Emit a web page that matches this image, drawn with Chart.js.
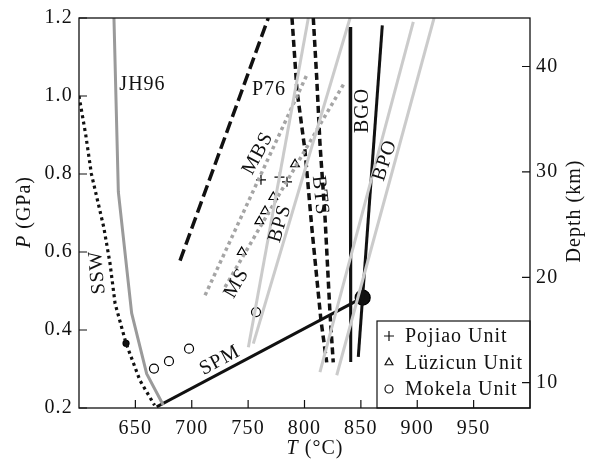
<!DOCTYPE html>
<html>
<head>
<meta charset="utf-8">
<script src="https://cdn.jsdelivr.net/npm/chart.js@4.4.1/dist/chart.umd.min.js"></script>
<style>
  html, body { margin: 0; padding: 0; background: #fff; }
  #wrap { width: 592px; height: 461px; }
</style>
</head>
<body>
<div id="wrap"><canvas id="pt" width="592" height="461"></canvas></div>
<script>
// tick labels
var tempTicks = [650, 700, 750, 800, 850, 900, 950];
var presTicks = [0.2, 0.4, 0.6, 0.8, 1.0, 1.2];
var depthTicks = [10, 20, 30, 40];

// curves: T (C) and P (GPa)
var sswT = [600, 606, 611, 622, 627.5, 632, 641.7, 654, 667];
var sswP = [1.0, 0.9, 0.8, 0.663, 0.571, 0.468, 0.366, 0.271, 0.207];
var jh96T = [631, 634.9, 646.7, 660, 674.8];
var jh96P = [1.2, 0.754, 0.443, 0.288, 0.207];
var spmT = [668.9, 851.6];
var spmP = [0.203, 0.483];
var p76T = [689.6, 767.9];
var p76P = [0.578, 1.2];
var btsLeftT = [788.9, 793.3, 800.4, 806.7, 814.6, 819.7];
var btsLeftP = [1.2, 1.015, 0.861, 0.656, 0.425, 0.317];
var btsRightT = [807.8, 810.8, 813.7, 818.2, 822.6, 825.5];
var btsRightP = [1.2, 1.048, 0.879, 0.689, 0.443, 0.317];
var bgoT = [840.4, 841];
var bgoP = [1.177, 0.318];
var bpoT = [869, 847.7];
var bpoP = [1.181, 0.331];
var bpsAT = [750.2, 803.4];
var bpsAP = [0.356, 1.2];
var bpsBT = [754.6, 840.4];
var bpsBP = [0.365, 1.2];
var bpoAT = [813.7, 896.5];
var bpoAP = [0.292, 1.19];
var bpoBT = [828.6, 914.9];
var bpoBP = [0.284, 1.2];
var mbsT = [711.8, 802.2];
var mbsP = [0.489, 1.055];
var msT = [729.5, 835.9];
var msP = [0.51, 1.036];

// samples
var pojiaoT = [761.4, 777.8, 784.5];
var pojiaoP = [0.785, 0.792, 0.780];
var luzicunT = [744.3, 759.9, 765, 772.3, 791.6];
var luzicunP = [0.6, 0.679, 0.705, 0.741, 0.825];
var mokelaT = [666.5, 679.8, 697.6, 757];
var mokelaP = [0.301, 0.32, 0.352, 0.446];
var peakT = [851.6];
var peakP = [0.483];
var sswDotT = [641.7];
var sswDotP = [0.366];

var unitNames = ['Pojiao Unit', 'Lüzicun Unit', 'Mokela Unit'];

// curve labels: text, T, P, angle
var curveLabels = [
  ['JH96', 656.3, 1.029, 0],
  ['P76', 768.5, 1.017, 0],
  ['MBS', 758.8, 0.853, -62],
  ['BPS', 778.3, 0.673, -73],
  ['MS', 739.9, 0.52, -60],
  ['SSW', 616.4, 0.548, -95],
  ['SPM', 725, 0.322, -28],
  ['BTS', 813.7, 0.745, 84],
  ['BGO', 852.1, 0.963, -90],
  ['BPO', 871.4, 0.835, -72]
];

var FONT = "'Liberation Serif', 'Times New Roman', serif";

function pts(t, p) {
  var out = [];
  for (var i = 0; i < t.length; i++) out.push({x: t[i], y: p[i]});
  return out;
}

function curve(t, p, color, width, dash) {
  return {
    data: pts(t, p), showLine: true, borderColor: color, borderWidth: width,
    borderDash: dash || [], pointRadius: 0, borderCapStyle: 'butt', tension: 0
  };
}

function marks(t, p, style, r, fill) {
  return {
    data: pts(t, p), showLine: false, pointStyle: style, pointRadius: r,
    borderColor: '#000', backgroundColor: fill || 'rgba(0,0,0,0)', pointBorderWidth: 1.2
  };
}

var lightGrey = '#cbcbcb';
var dotGrey = '#a5a5a5';

var datasets = [
  curve(bpsAT, bpsAP, lightGrey, 3),
  curve(bpsBT, bpsBP, lightGrey, 3),
  curve(bpoAT, bpoAP, lightGrey, 3),
  curve(bpoBT, bpoBP, lightGrey, 3),
  curve(mbsT, mbsP, dotGrey, 3.5, [3.5, 3.5]),
  curve(msT, msP, dotGrey, 3.5, [3.5, 3.5]),
  curve(jh96T, jh96P, '#9a9a9a', 3),
  curve(sswT, sswP, '#111', 3.2, [3, 3.5]),
  curve(p76T, p76P, '#111', 3.5, [12, 5]),
  curve(btsLeftT, btsLeftP, '#111', 3.5, [7, 4]),
  curve(btsRightT, btsRightP, '#111', 3.5, [7, 4]),
  curve(bgoT, bgoP, '#111', 3),
  curve(bpoT, bpoP, '#111', 3),
  curve(spmT, spmP, '#111', 3),
  marks(pojiaoT, pojiaoP, 'cross', 5),
  marks(luzicunT, luzicunP, 'triangle', 5),
  marks(mokelaT, mokelaP, 'circle', 4.5, '#fff'),
  marks(peakT, peakP, 'circle', 7.5, '#111'),
  marks(sswDotT, sswDotP, 'circle', 3, '#111')
];

function drawRich(ctx, parts, cx, cy, angle, size) {
  ctx.save();
  ctx.translate(cx, cy);
  ctx.rotate(angle * Math.PI / 180);
  ctx.textBaseline = 'middle';
  ctx.textAlign = 'left';
  var total = 0, widths = [];
  parts.forEach(function (pt) {
    ctx.font = (pt[1] ? 'italic ' : '') + size + 'px ' + FONT;
    var w = ctx.measureText(pt[0]).width;
    widths.push(w); total += w;
  });
  var x = -total / 2;
  parts.forEach(function (pt, i) {
    ctx.font = (pt[1] ? 'italic ' : '') + size + 'px ' + FONT;
    ctx.fillText(pt[0], x, 0);
    x += widths[i];
  });
  ctx.restore();
}

var decor = {
  id: 'decor',
  beforeDraw: function (chart) {
    chart.ctx.letterSpacing = '1.2px';
  },
  afterDraw: function (chart) {
    var ctx = chart.ctx, a = chart.chartArea;
    var sx = chart.scales.x, sy = chart.scales.y, sd = chart.scales.y2;
    ctx.save();
    ctx.letterSpacing = '1px';
    ctx.fillStyle = '#111';
    ctx.strokeStyle = '#111';

    // curve labels
    curveLabels.forEach(function (l) {
      drawRich(ctx, [[l[0], false]], sx.getPixelForValue(l[1]), sy.getPixelForValue(l[2]), l[3], 20);
    });

    // legend box
    var lx = a.right - 153, ly = a.bottom - 87;
    ctx.fillStyle = '#fff';
    ctx.fillRect(lx, ly, a.right - lx, a.bottom - ly);
    ctx.lineWidth = 1.2;
    ctx.strokeRect(lx, ly, a.right - lx, a.bottom - ly);
    var styles = ['cross', 'triangle', 'circle'];
    var radii = [5, 4.5, 4];
    for (var i = 0; i < 3; i++) {
      var ry = ly + 15 + i * 26.5;
      ctx.lineWidth = 1.2;
      ctx.strokeStyle = '#111';
      ctx.fillStyle = 'rgba(0,0,0,0)';
      Chart.helpers.drawPoint(ctx, {pointStyle: styles[i], radius: radii[i], borderWidth: 1.2, rotation: 0}, lx + 12, ry);
      ctx.fillStyle = '#111';
      ctx.font = '20px ' + FONT;
      ctx.textAlign = 'left';
      ctx.textBaseline = 'middle';
      ctx.fillText(unitNames[i], lx + 28, ry + 1);
    }

    // frame
    ctx.lineWidth = 1.3;
    ctx.strokeRect(a.left, a.top, a.right - a.left, a.bottom - a.top);

    // inward ticks
    ctx.lineWidth = 1.2;
    ctx.beginPath();
    tempTicks.forEach(function (v) {
      var x = sx.getPixelForValue(v);
      ctx.moveTo(x, a.bottom); ctx.lineTo(x, a.bottom - 8);
    });
    presTicks.forEach(function (v) {
      var y = sy.getPixelForValue(v);
      ctx.moveTo(a.left, y); ctx.lineTo(a.left + 8, y);
    });
    depthTicks.forEach(function (v) {
      var y = sd.getPixelForValue(v);
      ctx.moveTo(a.right, y); ctx.lineTo(a.right - 8, y);
    });
    ctx.stroke();

    // axis titles
    ctx.fillStyle = '#111';
    drawRich(ctx, [['P', true], [' (GPa)', false]], 25, 212, -90, 20);
    drawRich(ctx, [['Depth (km)', false]], 575, 211, -90, 20);
    drawRich(ctx, [['T', true], [' (°C)', false]], 315, 449, 0, 20);
    ctx.restore();
  }
};

function fixedTicks(list) {
  return function (scale) {
    scale.ticks = list.map(function (v) { return {value: v}; });
  };
}

new Chart(document.getElementById('pt').getContext('2d'), {
  type: 'scatter',
  data: {datasets: datasets},
  options: {
    responsive: false,
    animation: false,
    devicePixelRatio: 1,
    layout: {padding: {top: 17, left: 0, right: 0, bottom: 0}},
    plugins: {legend: {display: false}, tooltip: {enabled: false}},
    scales: {
      x: {
        type: 'linear', position: 'bottom', min: 600, max: 1000,
        grid: {display: false, drawTicks: false}, border: {display: false},
        afterBuildTicks: fixedTicks(tempTicks),
        afterFit: function (s) { s.height = 53; },
        ticks: {color: '#111', padding: 9, font: {family: FONT, size: 20}, maxRotation: 0}
      },
      y: {
        type: 'linear', position: 'left', min: 0.2, max: 1.2,
        grid: {display: false, drawTicks: false}, border: {display: false},
        afterBuildTicks: fixedTicks(presTicks),
        afterFit: function (s) { s.width = 79; },
        ticks: {color: '#111', padding: 6, font: {family: FONT, size: 20},
          callback: function (v) { return Number(v).toFixed(1); }}
      },
      y2: {
        type: 'linear', position: 'right', min: 7.6, max: 44.6,
        grid: {display: false, drawTicks: false}, border: {display: false},
        afterBuildTicks: fixedTicks(depthTicks),
        afterFit: function (s) { s.width = 62; },
        ticks: {color: '#111', padding: 6, font: {family: FONT, size: 20}}
      }
    }
  },
  plugins: [decor]
});
</script>
</body>
</html>
